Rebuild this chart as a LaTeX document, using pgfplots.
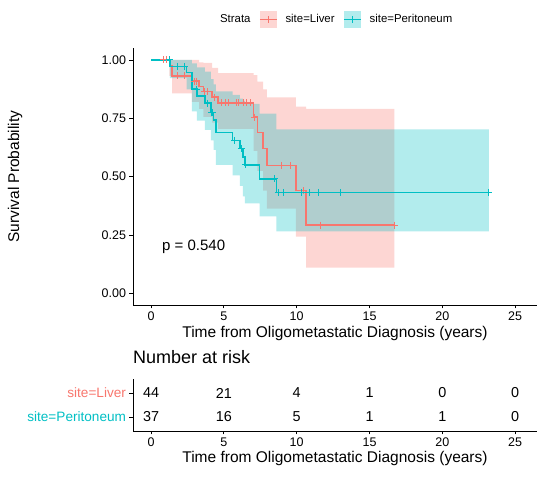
\documentclass[border=0pt]{standalone}
\usepackage{fontspec}
\setmainfont{Liberation Sans}
\usepackage{pgfplots}
\usepackage{pgfplotstable}
\pgfplotsset{compat=1.18}
\definecolor{liver}{HTML}{F8766D}
\definecolor{perit}{HTML}{00BFC4}

% Kaplan-Meier steps
\pgfplotstableread{
t S
0 1
1.25 0.977
1.45 0.932
2.8 0.909
3.3 0.886
3.6 0.864
4.2 0.841
4.6 0.816
7.05 0.755
7.3 0.69
7.7 0.62
7.95 0.548
9.95 0.44
10.65 0.292
16.7 0.292
}\liver

% confidence band outline (upper steps forward, lower steps back)
\pgfplotstableread{
t S
1.25 1
3.3 1
3.3 0.99
3.6 0.99
3.6 0.987
4.2 0.987
4.2 0.966
4.6 0.966
4.6 0.944
7.05 0.944
7.05 0.935
7.3 0.935
7.3 0.907
7.7 0.907
7.7 0.874
7.95 0.874
7.95 0.84
9.95 0.84
9.95 0.80
10.65 0.80
10.65 0.79
16.7 0.79
16.7 0.11
10.65 0.11
10.65 0.243
9.95 0.243
9.95 0.363
7.95 0.363
7.95 0.44
7.7 0.44
7.7 0.525
7.3 0.525
7.3 0.61
7.05 0.61
7.05 0.705
4.6 0.705
4.6 0.732
4.2 0.732
4.2 0.756
3.6 0.756
3.6 0.79
3.3 0.79
3.3 0.82
2.8 0.82
2.8 0.857
1.45 0.857
1.45 0.932
1.25 0.932
}\liverband

\pgfplotstableread{
t S
0.85 1
1.03 1
1.82 0.932
2.28 0.932
3.0 0.909
3.15 0.909
3.7 0.864
3.85 0.864
4.35 0.841
4.85 0.816
5.08 0.816
5.31 0.816
5.84 0.816
6.0 0.816
6.34 0.816
6.57 0.816
6.8 0.816
7.1 0.755
8.97 0.548
9.55 0.548
10.5 0.44
11.65 0.292
16.7 0.292
}\livercens

\pgfplotstableread{
t S
0 1
1.3 0.973
2.45 0.946
2.8 0.875
3.15 0.846
3.7 0.815
4.1 0.775
4.3 0.742
4.45 0.69
5.6 0.655
6.1 0.62
6.3 0.585
6.45 0.55
7.45 0.49
8.6 0.433
23.2 0.433
}\perit

\pgfplotstableread{
t S
1.3 1
2.8 1
2.8 0.985
3.15 0.985
3.15 0.968
3.7 0.968
3.7 0.95
4.1 0.95
4.1 0.918
4.3 0.918
4.3 0.895
4.45 0.895
4.45 0.865
5.6 0.865
5.6 0.85
6.1 0.85
6.1 0.834
6.3 0.834
6.3 0.825
6.45 0.825
6.45 0.812
7.45 0.812
7.45 0.77
8.6 0.77
8.6 0.703
23.2 0.703
23.2 0.266
8.6 0.266
8.6 0.33
7.45 0.33
7.45 0.385
6.45 0.385
6.45 0.415
6.3 0.415
6.3 0.46
6.1 0.46
6.1 0.505
5.6 0.505
5.6 0.55
4.45 0.55
4.45 0.615
4.3 0.615
4.3 0.655
4.1 0.655
4.1 0.70
3.7 0.70
3.7 0.74
3.15 0.74
3.15 0.78
2.8 0.78
2.8 0.874
2.45 0.874
2.45 0.922
1.3 0.922
}\peritband

\pgfplotstableread{
t S
1.3 1
1.82 0.973
2.28 0.973
3.1 0.875
3.9 0.815
4.15 0.775
4.25 0.775
5.75 0.655
6.2 0.62
6.5 0.55
8.5 0.49
8.75 0.433
9.09 0.433
10.35 0.433
10.9 0.433
11.5 0.433
12.98 0.433
23.2 0.433
}\peritcens

\pgfplotstableread{
x y n
0 2 44
5 2 21
10 2 4
15 2 1
20 2 0
25 2 0
0 1 37
5 1 16
10 1 5
15 1 1
20 1 1
25 1 0
}\risk

\begin{document}
\begin{tikzpicture}
\path[use as bounding box] (0,0) rectangle (550bp,479bp);
\begin{axis}[
  at={(133bp,174bp)}, anchor=south west,
  width=404bp, height=256.7bp, scale only axis,
  xmin=-1.24, xmax=26.5, ymin=-0.05, ymax=1.05,
  axis x line*=bottom, axis y line*=left,
  axis line style={-, line width=0.8bp, black},
  xtick={0,5,...,25}, ytick={0,0.25,0.5,0.75,1},
  yticklabels={0.00,0.25,0.50,0.75,1.00},
  tick align=outside, major tick length=3.5bp,
  tick style={line width=0.8bp, black},
  ticklabel style={font=\fontsize{12.5bp}{14bp}\selectfont},
  /pgf/number format/assume math mode=true,
  xlabel={Time from Oligometastatic Diagnosis (years)},
  ylabel={Survival Probability},
  label style={font=\fontsize{15.5bp}{18bp}\selectfont},
  xlabel style={at={(axis description cs:0.5,0)}, anchor=center, yshift=-28bp},
  ylabel style={at={(axis description cs:-0.292,0.5)}, anchor=center},
  legend columns=-1,
  legend style={at={(axis description cs:0.4926,1.1126)}, anchor=center,
    draw=none, fill=none, inner sep=0pt, outer sep=0pt,
    nodes={inner sep=0pt, font=\fontsize{11.4bp}{13bp}\selectfont},
    /tikz/every odd column/.append style={column sep=8bp},
    /tikz/every even column/.append style={column sep=8.5bp}},
]
% confidence bands
\addplot[fill=liver, fill opacity=0.3, draw=none, forget plot] table[x=t,y=S]{\liverband};
\addplot[fill=perit, fill opacity=0.3, draw=none, forget plot] table[x=t,y=S]{\peritband};
% curves
\addplot[liver, line width=1.5bp, const plot, forget plot] table[x=t,y=S]{\liver};
\addplot[perit, line width=1.5bp, const plot, forget plot] table[x=t,y=S]{\perit};
% censor marks
\addplot[liver, only marks, mark=+, mark size=3.5bp, mark options={line width=1bp}, forget plot] table[x=t,y=S]{\livercens};
\addplot[perit, only marks, mark=+, mark size=3.5bp, mark options={line width=1bp}, forget plot] table[x=t,y=S]{\peritcens};
\node[anchor=west, inner sep=0pt, font=\fontsize{15bp}{18bp}\selectfont] at (axis cs:0.75,0.2) {p = 0.540};
% legend
\addlegendimage{legend image code/.code={\path (0bp,0bp);}}
\addlegendentry{Strata}
\addlegendimage{legend image code/.code={
  \path[fill=liver, fill opacity=0.3, draw=none] (0bp,-8.5bp) rectangle (17bp,8.5bp);
  \path[draw=liver, line width=1.5bp] (0bp,0bp) -- (17bp,0bp);
  \path[draw=liver, line width=1bp] (8.5bp,-3.5bp) -- (8.5bp,3.5bp);}}
\addlegendentry{site=Liver}
\addlegendimage{legend image code/.code={
  \path[fill=perit, fill opacity=0.3, draw=none] (0bp,-8.5bp) rectangle (17bp,8.5bp);
  \path[draw=perit, line width=1.5bp] (0bp,0bp) -- (17bp,0bp);
  \path[draw=perit, line width=1bp] (8.5bp,-3.5bp) -- (8.5bp,3.5bp);}}
\addlegendentry{site=Peritoneum}
\end{axis}

\begin{axis}[
  at={(133bp,48bp)}, anchor=south west,
  width=404bp, height=52bp, scale only axis,
  xmin=-1.24, xmax=26.5, ymin=0.4167, ymax=2.5833,
  axis x line*=bottom, axis y line*=left,
  axis line style={-, line width=0.8bp, black},
  xtick={0,5,...,25}, ytick={1,2},
  yticklabels={\textcolor{perit}{site=Peritoneum}, \textcolor{liver}{site=Liver}},
  tick align=outside, major tick length=3.5bp,
  tick style={line width=0.8bp, black},
  xticklabel style={font=\fontsize{12.5bp}{14bp}\selectfont},
  yticklabel style={font=\fontsize{13.6bp}{16bp}\selectfont},
  /pgf/number format/assume math mode=true,
  xlabel={Time from Oligometastatic Diagnosis (years)},
  label style={font=\fontsize{15.5bp}{18bp}\selectfont},
  xlabel style={at={(axis description cs:0.5,0)}, anchor=center, yshift=-27bp},
  title={Number at risk},
  title style={at={(axis description cs:0,1)}, anchor=west, inner sep=0pt, yshift=16bp,
    font=\fontsize{18bp}{21bp}\selectfont},
]
\addplot[draw=none, mark=none, nodes near coords, point meta=explicit symbolic,
  nodes near coords style={anchor=center, text=black, font=\fontsize{14.4bp}{17bp}\selectfont}]
  table[x=x, y=y, meta=n]{\risk};
\end{axis}
\end{tikzpicture}
\end{document}
